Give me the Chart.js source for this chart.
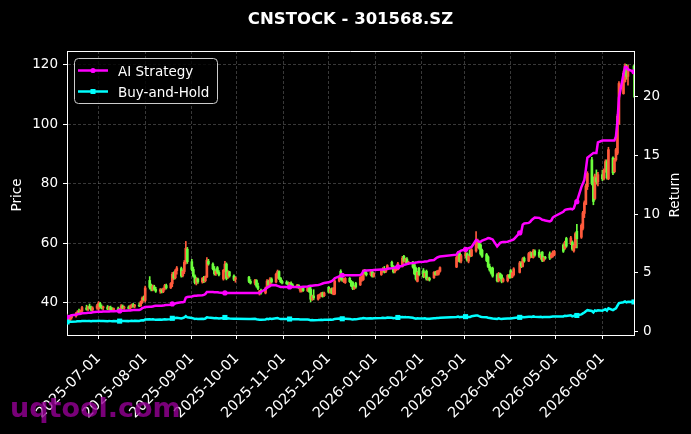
<!DOCTYPE html>
<html>
<head>
<meta charset="utf-8">
<script src="https://cdn.jsdelivr.net/npm/chart.js@4.4.1/dist/chart.umd.min.js"></script>
<style>
	html, body { margin: 0; padding: 0; background: #000; }
	#wrap { width: 691px; height: 434px; }
</style>
</head>
<body>
<div id="wrap"><canvas id="myChart"></canvas></div>
<script>
// trading calendar (weekdays between these, minus exchange holidays)
const firstDay = '2025-06-10'
const lastDay = '2026-06-22'
const holidays = ['2025-10-01', '2025-10-02', '2025-10-03', '2025-10-06', '2025-10-07', '2025-10-08', '2026-01-01', '2026-01-02', '2026-02-16', '2026-02-17', '2026-02-18', '2026-02-19', '2026-02-20', '2026-02-23', '2026-04-06', '2026-05-01', '2026-05-04', '2026-05-05', '2026-06-19']

const monthTicks = ['2025-07-01', '2025-08-01', '2025-09-01', '2025-10-01', '2025-11-01', '2025-12-01', '2026-01-01', '2026-02-01', '2026-03-01', '2026-04-01', '2026-05-01', '2026-06-01']
const priceTicks = [40, 60, 80, 100, 120]
const returnTicks = [0, 5, 10, 15, 20]

// daily candles, one value per trading day (grouped by month)
const opens = [
	35.5, 34.6, 34.2, 35.0, 35.6, 36.3, 37.1, 36.8, 37.2, 38.3, 37.9, 38.7, 38.1, 37.6, 38.2,
	38.0, 39.8, 38.6, 38.3, 38.6, 37.9, 38.4, 37.8, 37.5, 38.0, 37.6, 37.9, 38.9, 38.2, 38.6, 38.1, 38.9, 39.3, 38.8, 39.2, 39.0, 40.2, 41.5,
	40.8, 47.5, 45.3, 44.6, 45.4, 44.5, 43.9, 44.3, 43.7, 44.8, 45.8, 45.0, 46.4, 49.5, 48.4, 50.8, 51.5, 49.1, 50.5, 53.6, 58.0,
	53.8, 51.2, 49.0, 46.8, 48.0, 47.0, 48.1, 47.4, 48.7, 54.0, 53.0, 51.4, 49.8, 51.8, 50.2, 48.0, 50.9, 53.0, 48.6, 50.4, 49.0, 47.9,
	48.6, 47.2, 46.6, 47.5, 45.6, 43.0, 44.0, 43.3, 45.0, 47.3, 45.6, 48.0, 47.0, 49.6, 50.5, 48.3, 47.1,
	46.8, 46.5, 46.2, 46.6, 46.0, 45.5, 45.9, 44.2, 44.0, 45.0, 44.0, 44.9, 44.6, 41.2, 42.3, 41.2, 42.2, 42.5, 43.2, 42.4,
	45.2, 43.6, 44.5, 43.0, 43.0, 47.3, 50.6, 48.0, 47.3, 46.8, 48.2, 47.1, 46.8, 44.8, 46.5, 46.0, 47.6, 47.8, 50.8, 50.0, 49.4, 50.4, 48.9,
	49.5, 50.6, 51.2, 50.5, 51.3, 53.6, 52.3, 50.4, 51.2, 51.2, 52.2, 55.6, 54.0, 54.7, 53.4, 53.7, 52.8, 51.6, 47.2, 51.6,
	50.8, 48.8, 50.6, 48.0, 48.2, 48.4, 50.2, 49.5, 49.6, 50.6, 52.0, 54.0, 56.8, 54.0,
	55.8, 56.5, 54.0, 57.6, 55.8, 57.4, 59.0, 60.2, 59.4, 57.6, 56.2, 55.4, 52.2, 51.0, 51.6, 49.4, 47.4, 49.8, 49.2, 47.2, 47.4, 49.2,
	50.8, 48.6, 49.4, 50.2, 53.4, 52.2, 55.0, 54.0, 55.6, 56.8, 55.2, 57.4, 57.0, 55.6, 57.0, 54.2, 55.2, 56.4, 55.2, 55.6, 56.0,
	59.4, 58.2, 61.6, 59.8, 60.4, 57.4, 58.7, 64.0, 62.0, 65.0, 70.0, 73.0, 79.0, 88.0, 81.6, 75.0, 82.0, 80.6,
	83.0, 81.6, 84.6, 87.4, 81.6, 88.6, 84.0, 88.0, 90.2, 100.0, 110.2, 114.2, 119.0, 116.0, 119.4,
]
const highs = [
	36.2, 35.3, 35.6, 36.0, 36.8, 37.4, 37.9, 37.6, 38.8, 39.2, 38.9, 39.6, 38.9, 38.7, 39.5,
	40.4, 40.2, 39.3, 38.9, 39.1, 38.8, 38.9, 38.4, 38.3, 38.6, 38.2, 39.4, 39.3, 38.9, 39.0, 39.2, 39.6, 39.8, 39.5, 39.9, 40.6, 42.0, 42.3,
	45.6, 48.8, 46.3, 46.0, 45.9, 45.2, 44.8, 44.7, 45.0, 46.2, 46.3, 46.8, 50.2, 50.4, 51.2, 52.2, 52.0, 51.0, 54.2, 60.6, 58.6,
	54.6, 52.0, 49.4, 48.5, 48.3, 48.5, 48.9, 49.0, 55.2, 54.6, 53.4, 52.2, 51.0, 52.2, 50.8, 51.2, 53.9, 53.4, 50.8, 50.6, 49.4, 48.8,
	48.9, 47.8, 47.9, 47.8, 46.6, 44.2, 44.6, 45.3, 47.8, 47.6, 48.5, 48.4, 50.0, 51.0, 50.7, 48.5, 47.6,
	47.4, 47.0, 46.9, 47.0, 46.4, 46.2, 46.1, 45.0, 45.2, 45.3, 45.2, 45.4, 45.5, 42.6, 44.4, 42.8, 43.0, 43.5, 43.6, 43.6,
	45.5, 44.8, 45.0, 45.1, 47.8, 49.0, 51.1, 48.8, 48.2, 48.5, 48.5, 47.5, 47.1, 45.8, 46.9, 48.8, 49.0, 51.1, 51.2, 50.5, 50.6, 50.7, 50.2,
	51.2, 51.8, 52.2, 51.6, 52.8, 54.0, 52.5, 51.5, 52.0, 53.6, 55.6, 55.9, 55.0, 55.2, 54.0, 53.9, 53.5, 52.0, 50.6, 51.9,
	51.5, 50.2, 51.0, 48.6, 48.6, 50.5, 50.6, 50.8, 51.0, 52.1, 55.6, 57.2, 57.1, 56.3,
	57.0, 56.8, 56.2, 57.9, 58.2, 63.9, 61.4, 60.6, 59.8, 58.0, 56.6, 55.8, 53.0, 51.8, 52.0, 49.8, 50.2, 50.0, 49.5, 48.4, 49.5, 49.6,
	51.2, 50.4, 51.8, 53.9, 53.8, 55.2, 55.4, 56.9, 57.2, 57.0, 57.9, 57.8, 57.8, 56.4, 57.2, 55.6, 55.6, 57.1, 56.6, 57.4, 57.6,
	59.8, 60.7, 62.0, 62.3, 60.8, 59.7, 63.6, 66.3, 66.5, 70.7, 74.2, 79.8, 84.0, 88.8, 82.2, 83.2, 84.6, 83.8,
	84.5, 85.0, 88.0, 88.0, 92.2, 89.0, 88.5, 91.8, 103.2, 114.2, 117.8, 120.2, 120.0, 119.8, 119.8,
]
const lows = [
	34.0, 33.6, 33.9, 34.5, 35.2, 35.9, 36.4, 36.0, 36.9, 37.5, 37.4, 38.0, 37.3, 37.2, 37.8,
	37.4, 38.3, 37.9, 37.6, 37.7, 37.5, 37.6, 37.1, 37.0, 37.3, 37.0, 37.6, 37.9, 37.8, 37.9, 37.9, 38.4, 38.5, 38.3, 38.7, 38.8, 39.8, 40.6,
	40.3, 44.6, 44.0, 44.0, 44.2, 43.5, 43.2, 43.3, 43.4, 44.3, 44.6, 44.8, 45.4, 47.8, 48.0, 49.6, 48.6, 48.7, 49.8, 53.0, 53.2,
	50.8, 48.6, 46.3, 46.0, 46.5, 46.6, 46.8, 47.0, 48.4, 52.6, 51.0, 49.3, 49.2, 49.8, 49.0, 47.6, 50.4, 47.7, 48.2, 48.6, 47.4, 46.9,
	46.8, 46.3, 46.0, 45.2, 44.4, 42.6, 42.9, 43.0, 44.8, 45.6, 45.3, 46.6, 46.7, 48.2, 47.8, 46.7, 46.3,
	46.2, 45.8, 45.5, 45.8, 45.2, 45.0, 44.8, 43.6, 43.6, 43.8, 43.8, 43.5, 40.3, 40.8, 41.0, 40.9, 41.5, 42.0, 41.9, 42.1,
	43.3, 43.2, 43.0, 42.7, 42.7, 47.0, 47.6, 47.2, 46.8, 46.5, 46.8, 45.4, 44.4, 44.5, 44.9, 45.8, 47.2, 47.5, 49.6, 49.0, 49.0, 48.6, 48.6,
	49.2, 50.2, 50.0, 50.1, 51.0, 52.0, 50.0, 50.0, 50.8, 51.0, 52.0, 53.7, 53.4, 53.0, 52.8, 51.6, 49.4, 47.6, 47.0, 49.0,
	48.4, 48.5, 47.6, 47.5, 47.3, 48.2, 49.2, 49.2, 49.3, 50.3, 51.8, 53.8, 53.6, 53.4,
	55.0, 54.0, 53.4, 55.4, 55.5, 57.0, 58.4, 58.0, 56.0, 55.2, 53.8, 51.8, 50.6, 49.6, 48.6, 47.0, 47.0, 48.0, 46.7, 46.9, 47.0, 48.2,
	48.3, 48.4, 49.0, 50.0, 51.8, 52.0, 53.6, 53.8, 55.0, 55.2, 55.0, 55.6, 55.2, 54.6, 53.8, 53.9, 54.6, 54.5, 55.0, 55.3, 55.8,
	56.9, 57.9, 58.6, 59.5, 57.6, 57.0, 58.4, 58.4, 61.6, 64.5, 68.6, 72.9, 78.0, 79.6, 72.9, 74.5, 79.8, 79.2,
	81.0, 81.2, 83.8, 81.5, 81.3, 83.0, 83.6, 87.5, 89.7, 99.8, 110.0, 114.0, 115.0, 113.0, 109.0,
]
const closes = [
	34.5, 34.1, 35.2, 35.7, 36.4, 37.0, 36.8, 37.3, 38.4, 37.8, 38.6, 38.2, 37.6, 38.3, 39.0,
	40.0, 38.6, 38.2, 38.7, 37.9, 38.5, 37.8, 37.5, 38.1, 37.6, 37.9, 39.0, 38.2, 38.6, 38.1, 38.9, 39.3, 38.8, 39.2, 39.0, 40.3, 41.6, 41.0,
	45.0, 45.2, 44.6, 45.5, 44.5, 43.9, 44.4, 43.7, 44.8, 45.8, 45.0, 46.5, 49.6, 48.3, 50.8, 51.7, 49.0, 50.6, 53.6, 58.3, 53.8,
	51.2, 49.0, 46.8, 48.0, 47.0, 48.2, 47.4, 48.7, 54.3, 53.0, 51.4, 49.8, 50.6, 50.2, 49.4, 50.9, 53.0, 48.2, 50.4, 49.0, 47.9, 48.4,
	47.2, 46.6, 47.5, 45.6, 44.8, 44.0, 43.3, 45.0, 47.3, 46.0, 48.0, 47.0, 49.6, 50.5, 48.2, 47.1, 46.8,
	46.5, 46.2, 46.6, 46.0, 45.5, 45.9, 45.1, 44.6, 45.0, 44.1, 44.9, 43.8, 41.2, 42.3, 41.6, 42.5, 42.7, 43.2, 42.3, 43.3,
	43.6, 44.5, 43.3, 44.8, 47.3, 48.6, 48.0, 47.6, 47.8, 48.2, 47.1, 45.7, 44.8, 45.4, 45.3, 48.5, 48.6, 50.8, 50.0, 49.4, 50.3, 48.9, 49.9,
	50.8, 51.5, 50.5, 51.3, 52.5, 52.3, 50.4, 51.2, 51.6, 53.1, 55.0, 54.0, 54.7, 53.4, 53.7, 52.0, 49.8, 48.0, 50.2, 49.4,
	48.8, 49.9, 48.0, 48.2, 47.7, 50.2, 49.5, 50.5, 50.8, 51.8, 55.2, 56.8, 54.0, 55.8,
	56.5, 54.4, 55.8, 55.8, 57.8, 61.0, 60.8, 58.4, 56.4, 55.6, 54.2, 52.2, 51.0, 50.0, 49.0, 47.4, 49.8, 48.4, 47.2, 48.0, 49.2, 48.6,
	48.7, 50.1, 51.4, 53.4, 52.2, 54.8, 54.0, 56.5, 56.8, 55.6, 57.4, 56.0, 55.6, 55.9, 54.2, 55.2, 55.0, 55.0, 56.2, 57.0, 57.2,
	57.3, 60.3, 59.0, 61.8, 58.0, 59.3, 63.2, 61.5, 66.0, 70.2, 73.6, 79.2, 83.4, 80.2, 74.0, 82.6, 80.6, 83.0,
	81.6, 84.6, 87.4, 82.0, 91.4, 83.6, 88.0, 91.4, 102.6, 113.6, 117.0, 119.6, 116.0, 118.4, 117.6,
]

// cumulative return curves (right axis)
const aiReturn = [
	1.25, 1.28, 1.35, 1.4, 1.45, 1.5, 1.5, 1.52, 1.58, 1.6, 1.62, 1.62, 1.62, 1.65, 1.7,
	1.7, 1.7, 1.7, 1.72, 1.72, 1.72, 1.74, 1.74, 1.75, 1.76, 1.76, 1.76, 1.78, 1.78, 1.8, 1.8, 1.82, 1.84, 1.85, 1.85, 1.9, 2.0, 2.05,
	2.1, 2.12, 2.12, 2.15, 2.18, 2.2, 2.2, 2.2, 2.22, 2.25, 2.28, 2.3, 2.36, 2.36, 2.4, 2.45, 2.5, 2.5, 2.55, 2.9, 2.95,
	3.0, 3.04, 3.05, 3.06, 3.08, 3.1, 3.13, 3.2, 3.38, 3.38, 3.38, 3.36, 3.35, 3.35, 3.33, 3.3, 3.3, 3.3, 3.3, 3.3, 3.3, 3.3,
	3.3, 3.3, 3.3, 3.3, 3.3, 3.3, 3.4, 3.6, 3.75, 3.8, 3.9, 3.97, 3.95, 3.9, 3.85, 3.8, 3.8,
	3.8, 3.8, 3.8, 3.8, 3.8, 3.8, 3.8, 3.8, 3.8, 3.82, 3.85, 3.88, 3.9, 3.9, 3.92, 3.97, 4.0, 4.05, 4.1, 4.15,
	4.2, 4.25, 4.3, 4.4, 4.55, 4.7, 4.8, 4.8, 4.8, 4.8, 4.8, 4.8, 4.8, 4.8, 4.8, 4.82, 4.9, 5.15, 5.2, 5.2, 5.22, 5.22, 5.25,
	5.28, 5.3, 5.3, 5.32, 5.35, 5.4, 5.42, 5.45, 5.5, 5.52, 5.6, 5.68, 5.72, 5.75, 5.8, 5.85, 5.85, 5.88, 5.9, 5.93,
	5.95, 5.96, 5.97, 6.0, 6.05, 6.1, 6.2, 6.3, 6.35, 6.4, 6.55, 6.75, 6.8, 6.9,
	7.0, 7.05, 7.1, 7.15, 7.2, 7.8, 7.75, 7.65, 7.65, 7.75, 7.9, 7.97, 7.95, 7.9, 7.85, 7.25, 7.4, 7.55, 7.6, 7.62, 7.65, 7.7,
	7.75, 7.8, 7.85, 8.4, 8.45, 9.1, 9.2, 9.25, 9.35, 9.5, 9.6, 9.7, 9.68, 9.6, 9.52, 9.5, 9.45, 9.38, 9.45, 9.7, 9.8,
	10.2, 10.35, 10.4, 10.45, 10.4, 10.5, 10.9, 11.06, 12.3, 12.6, 12.9, 13.8, 14.8, 15.1, 15.2, 15.2, 15.2, 16.1,
	16.26, 16.26, 16.26, 16.26, 16.26, 16.26, 16.26, 16.6, 17.9, 19.9, 21.9, 22.5, 22.5, 22.3, 22.1,
]
const bhReturn = [
	0.83, 0.82, 0.84, 0.85, 0.87, 0.88, 0.88, 0.89, 0.91, 0.9, 0.91, 0.91, 0.89, 0.91, 0.92,
	0.94, 0.91, 0.91, 0.92, 0.9, 0.91, 0.9, 0.89, 0.9, 0.89, 0.9, 0.92, 0.91, 0.91, 0.9, 0.92, 0.93, 0.92, 0.93, 0.92, 0.95, 0.97, 0.96,
	1.04, 1.05, 1.04, 1.05, 1.03, 1.02, 1.03, 1.02, 1.04, 1.06, 1.04, 1.07, 1.14, 1.11, 1.16, 1.18, 1.13, 1.16, 1.22, 1.32, 1.22,
	1.17, 1.13, 1.08, 1.11, 1.09, 1.11, 1.09, 1.12, 1.23, 1.21, 1.17, 1.14, 1.16, 1.15, 1.13, 1.16, 1.21, 1.11, 1.15, 1.13, 1.1, 1.11,
	1.09, 1.08, 1.1, 1.06, 1.04, 1.02, 1.01, 1.04, 1.09, 1.06, 1.11, 1.08, 1.14, 1.16, 1.11, 1.09, 1.08,
	1.07, 1.07, 1.08, 1.06, 1.05, 1.06, 1.05, 1.04, 1.04, 1.03, 1.04, 1.02, 0.97, 0.99, 0.97, 0.99, 1.0, 1.01, 0.99, 1.01,
	1.02, 1.03, 1.01, 1.04, 1.09, 1.12, 1.11, 1.1, 1.1, 1.11, 1.09, 1.06, 1.04, 1.05, 1.05, 1.12, 1.12, 1.16, 1.15, 1.13, 1.15, 1.12, 1.14,
	1.16, 1.18, 1.16, 1.17, 1.2, 1.19, 1.15, 1.17, 1.18, 1.21, 1.25, 1.23, 1.24, 1.22, 1.22, 1.19, 1.14, 1.11, 1.15, 1.13,
	1.12, 1.14, 1.11, 1.11, 1.1, 1.15, 1.14, 1.16, 1.16, 1.18, 1.25, 1.28, 1.23, 1.26,
	1.28, 1.24, 1.26, 1.26, 1.31, 1.37, 1.37, 1.32, 1.28, 1.26, 1.23, 1.19, 1.17, 1.15, 1.13, 1.09, 1.14, 1.11, 1.09, 1.11, 1.13, 1.12,
	1.12, 1.15, 1.17, 1.22, 1.19, 1.24, 1.23, 1.28, 1.28, 1.26, 1.3, 1.27, 1.26, 1.27, 1.23, 1.25, 1.25, 1.25, 1.27, 1.29, 1.29,
	1.3, 1.36, 1.33, 1.39, 1.31, 1.34, 1.42, 1.38, 1.47, 1.56, 1.63, 1.74, 1.83, 1.76, 1.64, 1.81, 1.77, 1.82,
	1.79, 1.85, 1.91, 1.8, 1.99, 1.83, 1.92, 1.99, 2.22, 2.44, 2.51, 2.57, 2.49, 2.54, 2.53,
]

const upColor = '#ff5a3c'
const downColor = '#6cff3c'
const markEvery = 25

function dayNum(s) {
	const [y, m, d] = s.split('-').map(Number)
	return Date.UTC(y, m - 1, d) / 86400000
}

const holidaySet = new Set(holidays.map(dayNum))
const tradeDays = []
for (let t = dayNum(firstDay); t <= dayNum(lastDay); t++) {
	const wd = new Date(t * 86400000).getUTCDay()
	if (wd === 0 || wd === 6 || holidaySet.has(t)) continue
	tradeDays.push(t)
}
if (tradeDays.length !== closes.length) console.error('length mismatch', tradeDays.length, closes.length)

const candleColor = (ctx) => (closes[ctx.dataIndex] >= opens[ctx.dataIndex] ? upColor : downColor)

const decorPlugin = {
	id: 'decor',
	beforeDraw(chart) {
		const c = chart.ctx
		c.save()
		c.fillStyle = '#000'
		c.fillRect(0, 0, chart.width, chart.height)
		c.restore()
	},
	afterDraw(chart) {
		const c = chart.ctx
		const a = chart.chartArea
		c.save()
		// top spine
		c.strokeStyle = '#fff'
		c.lineWidth = 1
		c.beginPath()
		c.moveTo(Math.round(a.left), Math.round(a.top) + 0.5)
		c.lineTo(Math.round(a.right), Math.round(a.top) + 0.5)
		c.stroke()

		// title
		c.fillStyle = '#fff'
		c.font = 'bold 16.5px "DejaVu Sans"'
		c.textAlign = 'center'
		c.textBaseline = 'alphabetic'
		c.fillText('CNSTOCK - 301568.SZ', (a.left + a.right) / 2, 24)

		// axis titles
		c.font = '13.5px "DejaVu Sans"'
		c.textBaseline = 'middle'
		c.save()
		c.translate(17, 195)
		c.rotate(-Math.PI / 2)
		c.fillText('Price', 0, 0)
		c.restore()
		c.save()
		c.translate(675, 195)
		c.rotate(-Math.PI / 2)
		c.fillText('Return', 0, 0)
		c.restore()

		// legend box
		const bx = 74.5, by = 58.5, bw = 143, bh = 45
		c.beginPath()
		c.roundRect(bx, by, bw, bh, 4)
		c.fillStyle = 'rgba(0,0,0,0.8)'
		c.fill()
		c.strokeStyle = '#cccccc'
		c.lineWidth = 1
		c.stroke()
		const items = [chart.data.datasets[0], chart.data.datasets[1]]
		items.forEach((ds, i) => {
			const y = 70.5 + i * 21
			c.strokeStyle = ds.borderColor
			c.lineWidth = 2.5
			c.beginPath()
			c.moveTo(78, y)
			c.lineTo(108, y)
			c.stroke()
			c.fillStyle = ds.borderColor
			if (ds.pointStyle === 'rect') {
				c.fillRect(93 - 2.5, y - 2.5, 5, 5)
			} else {
				c.beginPath()
				c.arc(93, y, 2.6, 0, Math.PI * 2)
				c.fill()
			}
			c.fillStyle = '#fff'
			c.font = '13.5px "DejaVu Sans"'
			c.textAlign = 'left'
			c.textBaseline = 'alphabetic'
			c.fillText(ds.label, 118, y + 5)
		})

		// watermark
		c.font = 'bold 27px "DejaVu Sans"'
		c.fillStyle = 'rgba(150, 0, 150, 0.8)'
		c.textAlign = 'left'
		c.textBaseline = 'alphabetic'
		c.fillText('uqtool.com', 10, 417)
		c.restore()
	},
}

Chart.defaults.font.family = 'DejaVu Sans'
Chart.defaults.font.size = 13.5
Chart.defaults.color = '#fff'

const gridColor = 'rgba(128,128,128,0.55)'

var ctx = document.getElementById('myChart').getContext('2d')
var myChart = new Chart(ctx, {
	type: 'bar',
	data: {
		datasets: [
			{
				type: 'line',
				label: 'AI Strategy',
				data: tradeDays.map((x, i) => ({ x: x, y: aiReturn[i] })),
				yAxisID: 'yR',
				borderColor: '#ff00ff',
				backgroundColor: '#ff00ff',
				borderWidth: 2.5,
				pointStyle: 'circle',
				pointRadius: (c) => (c.dataIndex % markEvery === 0 ? 2.6 : 0),
				pointBorderWidth: 0,
				pointHoverRadius: 0,
				tension: 0,
				order: 0,
			},
			{
				type: 'line',
				label: 'Buy-and-Hold',
				data: tradeDays.map((x, i) => ({ x: x, y: bhReturn[i] })),
				yAxisID: 'yR',
				borderColor: '#00ffff',
				backgroundColor: '#00ffff',
				borderWidth: 2.5,
				pointStyle: 'rect',
				pointRadius: (c) => (c.dataIndex % markEvery === 0 ? 3.6 : 0),
				pointBorderWidth: 0,
				pointHoverRadius: 0,
				tension: 0,
				order: 0,
			},
			{
				label: 'body',
				data: tradeDays.map((x, i) => ({ x: x, y: [opens[i], closes[i]] })),
				yAxisID: 'y',
				backgroundColor: candleColor,
				borderWidth: 0,
				barThickness: 2,
				grouped: false,
				order: 1,
			},
			{
				label: 'wick',
				data: tradeDays.map((x, i) => ({ x: x, y: [lows[i], highs[i]] })),
				yAxisID: 'y',
				backgroundColor: candleColor,
				borderWidth: 0,
				barThickness: 1,
				grouped: false,
				order: 2,
			},
		],
	},
	options: {
		responsive: true,
		maintainAspectRatio: false,
		devicePixelRatio: 1,
		animation: false,
		events: [],
		layout: { padding: { top: 51, left: 0, right: 0, bottom: 0 } },
		plugins: {
			legend: { display: false },
			tooltip: { enabled: false },
			title: { display: false },
		},
		scales: {
			x: {
				type: 'linear',
				offset: false,
				min: tradeDays[0],
				max: tradeDays[tradeDays.length - 1],
				afterBuildTicks: (s) => {
					s.ticks = monthTicks.map((d) => ({ value: dayNum(d) }))
				},
				afterFit: (s) => {
					s.height = 99
				},
				ticks: {
					autoSkip: false,
					minRotation: 45,
					maxRotation: 45,
					padding: 11,
					color: '#fff',
					font: { size: 14.5 },
					callback: (v, i) => monthTicks[i],
				},
				grid: {
					offset: false,
					color: gridColor,
					lineWidth: 0.8,
					tickColor: '#fff',
					tickLength: 4,
					tickWidth: 1,
					tickBorderDash: [],
				},
				border: { color: '#fff', width: 1, dash: [3, 2] },
			},
			y: {
				type: 'linear',
				position: 'left',
				min: 29.2,
				max: 124.5,
				afterBuildTicks: (s) => {
					s.ticks = priceTicks.map((v) => ({ value: v }))
				},
				afterFit: (s) => {
					s.width = 67
				},
				ticks: { padding: 5, color: '#fff' },
				grid: {
					color: gridColor,
					lineWidth: 0.8,
					tickColor: '#fff',
					tickLength: 4,
					tickWidth: 1,
					tickBorderDash: [],
				},
				border: { color: '#fff', width: 1, dash: [3, 2] },
			},
			yR: {
				type: 'linear',
				position: 'right',
				min: -0.28,
				max: 23.87,
				afterBuildTicks: (s) => {
					s.ticks = returnTicks.map((v) => ({ value: v }))
				},
				afterFit: (s) => {
					s.width = 57
				},
				ticks: { padding: 5, color: '#fff' },
				grid: {
					drawOnChartArea: false,
					color: '#fff',
					tickColor: '#fff',
					tickLength: 4,
					tickWidth: 1,
				},
				border: { color: '#fff', width: 1 },
			},
		},
	},
	plugins: [decorPlugin],
})
</script>
</body>
</html>
